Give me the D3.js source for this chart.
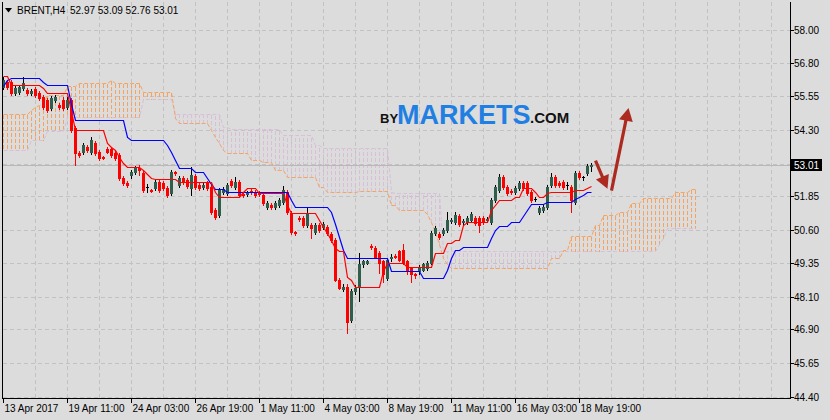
<!DOCTYPE html>
<html><head><meta charset="utf-8">
<script src="https://cdn.jsdelivr.net/npm/d3@7"></script>
<style>html,body{margin:0;padding:0;background:#dcdcdc}svg{display:block}</style>
</head><body>
<svg id="chart" width="830" height="420"></svg>
<script>
// ---------- DATA ----------
const symbol = "BRENT,H4";
const titleValues = "52.97 53.09 52.76 53.01";
const opens = [55.90,56.09,56.09,55.68,55.71,55.86,55.79,55.68,55.83,55.68,55.53,55.42,55.12,55.42,55.23,55.42,55.16,55.42,54.38,53.45,
53.49,53.67,53.49,53.82,53.49,53.30,53.60,53.60,53.45,53.38,52.53,52.34,52.64,52.75,52.90,52.71,52.19,52.08,52.16,52.38,
52.34,52.16,51.97,52.75,52.27,52.53,52.45,52.16,52.60,52.27,52.19,52.34,52.19,51.34,51.16,52.01,51.97,52.42,52.19,52.38,
51.94,51.94,52.05,52.01,51.97,51.90,51.45,51.53,51.45,51.53,51.64,52.01,51.23,50.53,51.04,51.04,50.78,50.78,50.53,50.78,
50.71,50.71,50.45,50.23,48.75,48.38,48.49,47.26,48.31,48.49,49.31,49.38,50.01,49.93,49.75,49.42,48.82,49.53,49.64,49.79,
49.86,49.42,49.16,48.94,49.05,49.12,49.19,49.38,50.49,50.45,50.49,50.60,50.93,50.89,51.12,50.89,50.89,50.97,51.04,51.04,
51.04,50.97,50.89,51.71,52.08,52.56,52.19,52.05,52.01,52.16,52.34,52.34,52.01,51.75,51.27,51.34,51.45,52.27,52.56,52.34,
52.38,52.27,52.19,51.64,52.71,52.56,52.71,52.97];
const highs = [56.27,56.16,56.16,55.94,55.97,56.27,55.86,55.83,55.90,55.75,55.60,55.49,55.57,55.60,55.31,55.53,55.53,55.49,54.45,53.53,
53.82,53.75,54.05,53.90,53.56,53.34,53.67,53.67,53.53,53.45,52.60,52.42,52.82,52.97,53.01,52.79,52.30,52.12,52.45,52.45,
52.42,52.23,52.82,52.79,52.60,52.60,52.53,52.93,52.67,52.34,52.34,52.42,52.27,51.42,52.16,52.19,52.34,52.49,52.56,52.45,
52.01,52.05,52.12,52.08,52.05,51.97,51.68,51.60,51.68,51.79,52.23,52.08,51.31,50.56,51.12,51.12,51.45,50.86,50.86,50.86,
50.89,50.78,50.53,50.30,48.82,48.57,48.57,48.38,48.53,49.75,49.49,49.49,50.08,50.01,49.82,49.49,49.56,49.68,49.71,49.86,
50.05,49.49,49.23,49.01,49.27,49.38,49.45,50.56,50.75,50.53,50.67,51.27,51.04,51.27,51.19,51.01,51.12,51.27,51.12,51.12,
51.12,51.08,51.79,52.27,52.67,52.64,52.27,52.12,52.23,52.42,52.42,52.42,52.08,51.82,51.49,51.53,52.27,52.71,52.64,52.42,
52.45,52.38,52.27,52.79,52.79,52.60,53.04,53.09];
const lows = [55.83,55.83,55.60,55.60,55.64,55.79,55.60,55.60,55.53,55.42,55.08,54.97,55.05,55.34,55.08,55.05,55.08,54.23,53.01,53.30,
53.42,53.49,53.42,53.38,53.19,53.23,53.45,53.30,53.19,52.45,52.27,52.19,52.53,52.67,52.64,52.01,52.01,52.01,52.08,52.01,
52.08,51.82,51.90,52.64,52.19,52.30,52.16,51.90,52.12,52.08,52.12,52.08,51.19,51.01,51.08,51.94,51.90,52.19,52.12,51.82,
51.82,51.86,51.94,51.82,51.86,51.53,51.38,51.38,51.38,51.45,51.57,51.19,50.45,50.41,50.93,50.71,50.71,50.30,50.45,50.53,
50.64,50.41,50.16,48.68,48.38,48.31,46.77,47.19,48.23,47.94,49.23,49.31,49.90,49.53,49.01,48.64,48.75,49.45,49.53,49.42,
49.31,48.94,48.64,48.82,48.97,49.05,49.12,49.31,50.41,50.27,50.41,50.53,50.86,50.82,50.75,50.82,50.82,50.89,50.78,50.53,
50.82,50.89,50.82,51.64,52.01,52.12,51.90,51.94,51.94,52.08,52.08,51.90,51.64,51.68,51.19,51.27,51.38,52.19,52.19,52.19,
52.12,52.12,51.27,51.57,52.49,52.45,52.64,52.76];
const closes = [56.16,55.90,55.68,55.86,55.90,56.05,55.68,55.75,55.60,55.49,55.16,55.05,55.49,55.53,55.16,55.12,55.42,54.31,53.45,53.38,
53.75,53.56,53.93,53.45,53.27,53.27,53.49,53.38,53.27,52.53,52.34,52.27,52.75,52.90,52.82,52.08,52.19,52.05,52.38,52.08,
52.16,51.90,52.75,52.71,52.53,52.38,52.23,52.64,52.19,52.16,52.27,52.16,51.27,51.08,52.08,52.12,52.27,52.27,52.38,51.90,
51.90,51.97,52.01,51.90,51.94,51.60,51.60,51.45,51.60,51.71,52.08,51.27,50.53,50.49,51.01,50.78,51.23,50.67,50.78,50.60,
50.82,50.49,50.23,48.75,48.45,48.49,47.19,48.31,48.45,49.31,49.42,49.42,49.97,49.60,49.38,48.94,49.49,49.60,49.60,49.49,
49.38,49.12,48.94,48.90,49.19,49.31,49.38,50.49,50.67,50.34,50.60,50.97,50.97,51.16,50.82,50.93,51.04,51.19,50.86,50.78,
50.89,51.01,51.71,52.19,52.56,52.19,51.97,52.01,52.16,52.34,52.16,51.97,51.71,51.75,51.42,51.45,52.19,52.56,52.27,52.27,
52.19,52.27,51.71,52.71,52.56,52.56,52.97,53.01];

// Ichimoku lines, read as [fromBar, value] steps
const tenkanSteps = [[0,56.31],[2,55.97],[10,55.86],[11,55.68],[17,55.01],[18,54.31],[26,53.82],[27,53.67],[28,53.56],[29,53.30],
[30,53.08],[31,52.93],[35,52.82],[36,52.67],[37,52.53],[38,52.49],[44,52.38],[53,52.01],[54,51.82],[60,52.01],[61,52.16],
[64,51.97],[71,51.53],[72,51.23],[79,50.97],[80,50.71],[81,50.49],[82,50.23],[83,49.93],[84,49.79],[86,48.86],[87,48.75],
[88,48.49],[95,49.05],[96,49.38],[101,49.23],[108,49.75],[111,50.12],[113,50.23],[115,50.78],[116,50.89],[122,51.34],
[123,51.53],[124,51.71],[128,51.82],[130,52.16],[133,52.01],[134,51.82],[136,51.97],[137,52.01],[143,52.08],[146,52.16],[147,52.23]];
const kijunSteps = [[0,55.94],[1,56.16],[2,56.23],[10,56.09],[11,55.97],[17,55.27],[18,54.68],[31,54.05],[32,53.93],[41,53.75],
[42,53.49],[43,53.19],[44,52.90],[48,52.75],[51,52.53],[52,52.30],[53,52.12],[56,52.01],[72,51.71],[73,51.45],[82,51.27],
[83,50.82],[84,50.34],[85,49.86],[86,49.53],[97,49.05],[105,48.82],[111,49.12],[112,49.56],[113,49.86],[115,49.97],[122,50.30],
[123,50.60],[124,50.75],[127,50.89],[130,51.12],[131,51.34],[132,51.57],[136,51.64],[143,51.75],[144,51.82],[145,51.90],[146,52.01]];
const spanASteps = [[0,54.90],[7,55.05],[8,55.16],[9,55.23],[10,55.31],[11,55.60],[16,55.94],[19,56.05],[27,56.16],[28,56.05],
[35,55.71],[43,54.75],[44,54.57],[52,54.31],[53,54.05],[54,53.82],[55,53.56],[56,53.45],[62,53.19],[65,53.12],[68,52.82],
[71,52.56],[79,52.19],[81,52.01],[89,52.05],[97,51.53],[99,51.34],[106,51.19],[107,50.89],[108,50.53],[109,50.05],[110,49.56],
[111,49.31],[112,49.16],[137,49.56],[140,49.86],[142,50.38],[148,50.78],[150,51.16],[154,51.27],[157,51.60],[160,51.79],
[168,52.01],[172,52.12]];
const spanBSteps = [[0,53.56],[7,53.93],[11,54.27],[16,54.79],[35,55.46],[43,54.90],[55,54.42],[57,54.34],[70,54.12],[78,53.75],
[80,53.64],[97,52.01],[98,51.97],[110,49.79],[164,50.05],[165,50.30],[166,50.67]];
const cloudBars = 174;

const yTickValues = [58.00,56.80,55.55,54.30,53.05,51.85,50.60,49.35,48.10,46.90,45.65,44.40];
const yTickLabels = ["58.00","56.80","55.55","54.30","","51.85","50.60","49.35","48.10","46.90","45.65","44.40"];
const xTickBars = [0,16,32,48,64,80,96,112,128,144];
const xTickLabels = ["13 Apr 2017","19 Apr 11:00","24 Apr 03:00","26 Apr 19:00","1 May 11:00","4 May 03:00","8 May 19:00","11 May 11:00","16 May 03:00","18 May 19:00"];
const lastPrice = 53.01;
// annotation arrows: [startBar, startPrice, tipBar, tipPrice]
const arrows = [[148,53.16,151,52.12],[152,52.05,156.25,55.12]];

// ---------- DRAWING ----------
const svg = d3.select("#chart");
const L = 2.5, R = 790.5, T = 2, B = 398.5;
const x = d3.scaleLinear().domain([0,1]).range([3.5,7.5]);
const y = d3.scaleLinear().domain([44.40,58.00]).range([396.7,30.3]);
const py = v => Math.round(y(v)) + 0.5;
const font = "'Liberation Sans', Arial, sans-serif";

function expand(steps, n){
  const out = []; let k = 0;
  for(let i=0;i<n;i++){ while(k+1<steps.length && steps[k+1][0]<=i) k++; out.push(steps[k][1]); }
  return out;
}
const nBars = closes.length;
const tenkan = expand(tenkanSteps, nBars);
const kijun = expand(kijunSteps, nBars);
const spanA = expand(spanASteps, cloudBars);
const spanB = expand(spanBSteps, cloudBars);

svg.append("rect").attr("width",830).attr("height",420).attr("fill","#dcdcdc");
svg.append("defs").append("clipPath").attr("id","plot").append("rect")
  .attr("x",L+0.5).attr("y",T).attr("width",R-L-1).attr("height",B-T-0.5);

const grid = svg.append("g").attr("stroke","#c2c2c2").attr("stroke-dasharray","4,3").attr("shape-rendering","crispEdges");
yTickValues.forEach(v => grid.append("line").attr("x1",L).attr("x2",R).attr("y1",py(v)).attr("y2",py(v)));
d3.range(8,197,8).forEach(i => grid.append("line").attr("x1",x(i)).attr("x2",x(i)).attr("y1",T).attr("y2",B));

const plot = svg.append("g").attr("clip-path","url(#plot)");

// cloud hatch
const SANDY = "#f4a460", THISTLE = "#d8bfd8";
const hatch = plot.append("g").attr("stroke-dasharray","4,2").attr("shape-rendering","crispEdges");
for(let j=0;j<cloudBars;j++){
  if (Math.abs(spanA[j]-spanB[j]) < 0.001) continue;
  hatch.append("line").attr("x1",x(j)).attr("x2",x(j))
    .attr("y1",py(spanA[j])).attr("y2",py(spanB[j]))
    .attr("stroke", spanA[j] > spanB[j] ? SANDY : THISTLE);
}
const line = d3.line().x((d,i)=>x(i)).y(d=>py(d));
plot.append("path").attr("d",line(spanB)).attr("fill","none").attr("stroke",THISTLE).attr("stroke-dasharray","4,2");
plot.append("path").attr("d",line(spanA)).attr("fill","none").attr("stroke",SANDY).attr("stroke-dasharray","4,2");

// current price line
plot.append("line").attr("x1",L).attr("x2",R).attr("y1",py(lastPrice)).attr("y2",py(lastPrice))
  .attr("stroke","#b8b8b8").attr("shape-rendering","crispEdges");

// candles
const cg = plot.append("g").attr("shape-rendering","crispEdges");
for(let i=0;i<nBars;i++){
  const o=opens[i], c=closes[i], h=highs[i], l=lows[i];
  const up = c>o, doji = Math.abs(c-o)<0.001;
  const col = doji ? "#000" : (up ? "#000" : "#ff0000");
  const cx = x(i);
  cg.append("line").attr("x1",cx).attr("x2",cx).attr("y1",Math.round(y(h))).attr("y2",Math.round(y(l))+1).attr("stroke",col);
  const top = Math.round(y(Math.max(o,c))), bot = Math.round(y(Math.min(o,c)));
  if (doji){
    cg.append("rect").attr("x",cx-1.5).attr("y",top).attr("width",3).attr("height",1).attr("fill","#000");
  } else {
    cg.append("rect").attr("x",cx-1.5).attr("y",top).attr("width",3).attr("height",Math.max(1,bot-top+1))
      .attr("fill", up ? "#2f5e4d" : "#ff0000");
  }
}

// tenkan / kijun
plot.append("path").attr("d",line(kijun)).attr("fill","none").attr("stroke","#0000ff").attr("stroke-width",1.2);
plot.append("path").attr("d",line(tenkan)).attr("fill","none").attr("stroke","#ff0000").attr("stroke-width",1.2);

// arrows
const ARC = "#ad2a21";
arrows.forEach(a => {
  const x0=x(a[0]), y0=y(a[1]), x1=x(a[2]), y1=y(a[3]);
  const dx=x1-x0, dy=y1-y0, len=Math.hypot(dx,dy), ux=dx/len, uy=dy/len;
  const hl=13, hw=7;
  const bx=x1-ux*hl, by=y1-uy*hl;
  plot.append("line").attr("x1",x0).attr("y1",y0).attr("x2",bx+ux*2).attr("y2",by+uy*2)
    .attr("stroke",ARC).attr("stroke-width",3.2).attr("stroke-linecap","butt");
  plot.append("path").attr("d",`M${x1},${y1}L${bx-uy*hw},${by+ux*hw}L${bx+uy*hw},${by-ux*hw}Z`).attr("fill",ARC);
});

// frame
const frame = svg.append("g").attr("stroke","#000").attr("shape-rendering","crispEdges");
frame.append("line").attr("x1",L).attr("x2",L).attr("y1",T).attr("y2",B);
frame.append("line").attr("x1",R).attr("x2",R).attr("y1",T).attr("y2",B);
frame.append("line").attr("x1",L).attr("x2",R).attr("y1",B).attr("y2",B);

// y axis
yTickValues.forEach((v,k) => {
  frame.append("line").attr("x1",R).attr("x2",R+3).attr("y1",py(v)).attr("y2",py(v));
  if (yTickLabels[k]) svg.append("text").attr("x",794).attr("y",py(v)+3.5)
    .attr("font-family",font).attr("font-size",10).attr("fill","#000").text(yTickLabels[k]);
});
// x axis
xTickBars.forEach((b,k) => {
  frame.append("line").attr("x1",x(b)).attr("x2",x(b)).attr("y1",B).attr("y2",B+4);
  svg.append("text").attr("x",x(b)+1).attr("y",412).attr("font-family",font).attr("font-size",10)
    .attr("fill","#000").text(xTickLabels[k]);
});

// last price tag
svg.append("rect").attr("x",791).attr("y",py(lastPrice)-6.5).attr("width",31).attr("height",12).attr("fill","#000");
svg.append("text").attr("x",794).attr("y",py(lastPrice)+3.5).attr("font-family",font).attr("font-size",10)
  .attr("fill","#fff").text(d3.format(".2f")(lastPrice));

// title
svg.append("path").attr("d","M5,8L12,8L8.5,12.5Z").attr("fill","#000");
svg.append("text").attr("x",17).attr("y",14).attr("font-family",font).attr("font-size",10).attr("fill","#000").text(symbol);
svg.append("text").attr("x",70).attr("y",14).attr("font-family",font).attr("font-size",10).attr("fill","#000").text(titleValues);

// logo as one text element
const logo = svg.append("text").attr("font-family",font).attr("font-weight","bold").attr("y",123);
logo.append("tspan").attr("x",380).attr("font-size",13).attr("fill","#111").text("BY");
logo.append("tspan").attr("x",397).attr("y",123.5).attr("font-size",27).attr("fill","#1f7fe3").text("MARKETS");
logo.append("tspan").attr("x",530).attr("y",123).attr("font-size",15).attr("fill","#111").text(".COM");
</script>
</body></html>
